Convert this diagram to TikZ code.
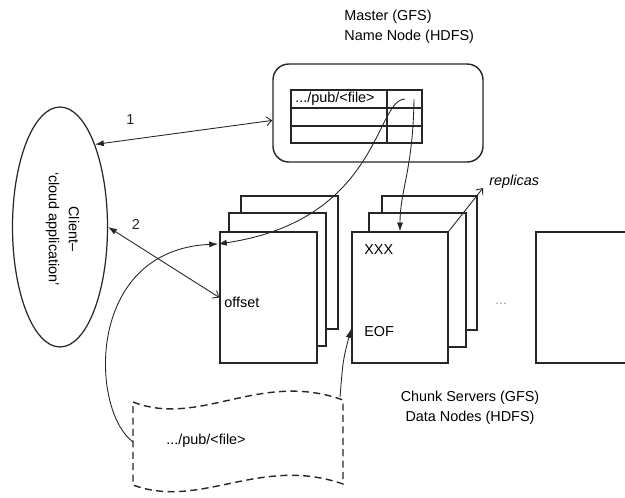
\documentclass[tikz,border=0pt]{standalone}
\usepackage{fontspec}
\setmainfont{Liberation Sans}
\usetikzlibrary{shapes.geometric, arrows.meta, fit}

\begin{document}
\begin{tikzpicture}[
  x=0.02cm, y=-0.02cm,
  font=\fontsize{8.2}{11.4}\selectfont,
  box/.style={draw=black!85, line width=0.8pt, inner sep=0pt},
  page/.style={box, fill=white},
  masterbox/.style={box, rounded corners=9pt},
  clientbox/.style={ellipse, draw=black!85, line width=0.7pt, inner sep=0pt,
             minimum width=1.9cm, minimum height=4.8cm},
  docbox/.style={draw=black!85, line width=0.8pt, dash pattern=on 4pt off 2.5pt},
  arrow/.style={black!85, line width=0.5pt, -{Latex[length=5pt, width=3.5pt]}},
  twoway/.style={black!85, line width=0.5pt,
             {Latex[length=5pt, width=3.5pt]}-{Straight Barb[length=3pt, width=5pt]}},
  lbl/.style={inner sep=0pt, anchor=west}
]
\useasboundingbox (0,0) rectangle (625,497);

% master / name node
\node[lbl, align=left] (mastertxt) at (344,27) {Master (GFS)\\Name Node (HDFS)};
\node[masterbox, fit={(273,64)(483,162)}] (master) {};
\node[box, fit={(291,90)(422,143)}] (tbl) {};
\draw[black!85, line width=0.8pt] (291,108) -- (422,108) (291,126) -- (422,126)
  (387,90) -- (387,143);
\node[lbl] (tblfile) at (295,99) {.../pub/<file>};
\coordinate (ptrA) at (405,99);
\coordinate (ptrB) at (414,99);

% client
\node[clientbox] (client) at (60,227) {};
\node[rotate=-90, align=center] (clienttxt) at (62.5,229) {Client--\\`cloud application'};

% chunk servers, back to front
\node[page, fit={(241,196)(338,329)}] (pageA3) {};
\node[page, fit={(229,213)(326,346)}] (pageA2) {};
\node[page, fit={(220,232)(317,363)}] (pageA1) {};
\node[page, fit={(382,196)(477,330)}] (pageB3) {};
\node[page, fit={(369,213)(466,347)}] (pageB2) {};
\node[page, fit={(352,232)(448,363)}] (pageB1) {};
\node[page, fit={(536,232)(660,363)}] (pageC) {};

\node[lbl] (offset) at (224,302) {offset};
\node[lbl] (xxx) at (364,250) {XXX};
\node[lbl] (eof) at (364,332) {EOF};
\node[text=black!45, font=\scriptsize] (dots) at (501,304) {\ldots};
\node[lbl, font=\fontsize{8.2}{11.4}\selectfont\itshape] (replicas) at (489,182) {replicas};
\node[align=center] (chunktxt) at (470,408) {Chunk Servers (GFS)\\Data Nodes (HDFS)};

% file on the client side
\draw[docbox] (133,402) .. controls (200,428) and (260,370) .. (343,400)
  -- (343,484) .. controls (260,455) and (200,510) .. (133,485) -- cycle;
\node[lbl] (doctxt) at (166,441) {.../pub/<file>};
\coordinate (docL) at (133,442);
\coordinate (docR) at (340,397);

% connectors
\coordinate (meet) at (218,244);
\coordinate (eofin) at (351,329);
\coordinate (rep) at (483,188);
\draw[twoway] (client.67) -- node[above=5pt, pos=0.2] {1} (master.184);
\draw[twoway] (client.east) -- node[above=5pt, pos=0.25] {2} (pageA1.west);
\draw[arrow] (ptrA) .. controls (375,100) and (380,220) .. (meet);
\draw[arrow] (ptrB) .. controls (413,170) and (400,190) .. (pageB1.north);
\draw[arrow] (docL) .. controls (90,410) and (85,250) .. (meet);
\draw[arrow] (docR) .. controls (343,360) .. (eofin);
\draw[black!85, line width=0.5pt, -{Straight Barb[length=3pt, width=5pt]}] (pageB1.north east) -- (rep);
\end{tikzpicture}
\end{document}
